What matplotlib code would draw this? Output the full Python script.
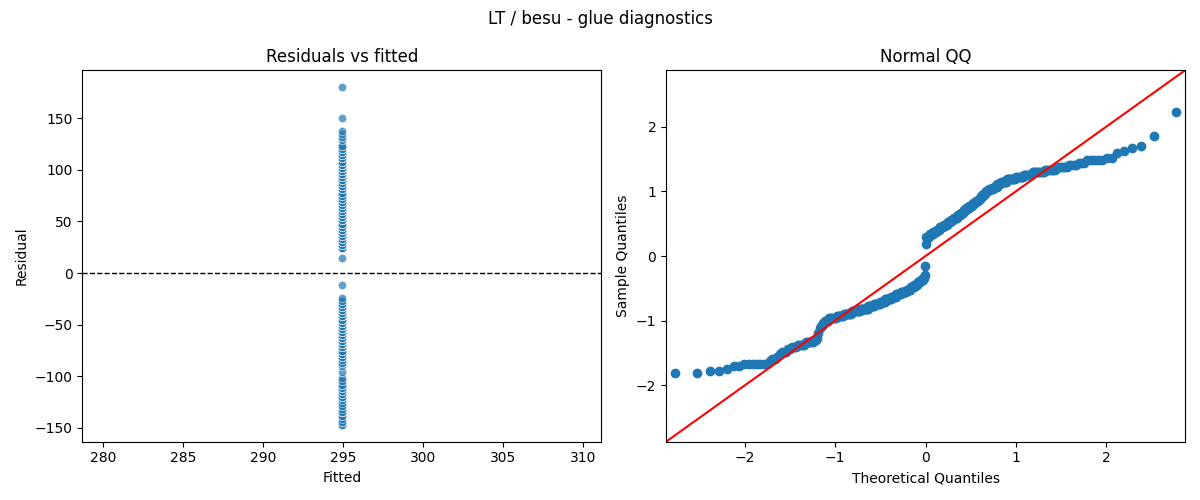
"""Residual diagnostics for the LT / besu glue model.

Left: residuals against fitted values, right: normal QQ of the standardised residuals.
"""

from statistics import NormalDist

import matplotlib
matplotlib.use("Agg")
import matplotlib.pyplot as plt
import numpy as np
import seaborn as sns

# Model output: one constant fitted value, residuals per run
fitted_value = 294.9
residuals = [
    -147, -147, -144, -144, -141, -138, -138, -135, -135, -135,
    -135, -135, -135, -135, -132, -129, -129, -126, -123, -120,
    -120, -120, -117, -117, -114, -114, -114, -111, -111, -111,
    -111, -111, -108, -108, -108, -108, -108, -108, -105, -105,
    -102, -96, -90, -87, -87, -84, -81, -81, -81, -81,
    -78, -78, -78, -78, -78, -78, -78, -75, -75, -75, -75,
    -75, -75, -75, -72, -72, -72, -72, -72, -72, -72,
    -72, -72, -69, -69, -69, -69, -69, -69, -69, -69, -69,
    -69, -66, -66, -66, -66, -66, -66, -66, -66, -66,
    -66, -63, -63, -63, -63, -63, -63, -63, -63, -60, -60,
    -60, -60, -60, -60, -60, -60, -57, -57, -57, -57,
    -57, -57, -57, -54, -54, -54, -54, -54, -54, -54, -54,
    -54, -51, -51, -51, -51, -51, -51, -51, -48, -48,
    -48, -48, -48, -48, -48, -48, -45, -45, -45, -45, -45,
    -45, -45, -45, -42, -42, -42, -42, -42, -42, -39, -39,
    -39, -39, -39, -39, -36, -36, -36, -36, -36, -33,
    -33, -33, -33, -33, -30, -30, -30, -30, -27, -27,
    -24, -12,
    15, 24, 24, 24, 24, 24, 27, 27,
    27, 27, 27, 27, 30, 30, 30, 30, 30, 33,
    33, 33, 33, 33, 36, 36, 36, 36, 36, 36, 39,
    39, 39, 39, 39, 39, 42, 42, 42, 42, 42,
    45, 45, 45, 45, 48, 48, 48, 48, 48, 48, 51,
    51, 51, 51, 51, 54, 54, 54, 54, 57, 57,
    57, 57, 60, 60, 60, 60, 63, 63, 63, 63, 63,
    66, 66, 66, 66, 69, 69, 69, 69, 72, 72,
    72, 75, 75, 75, 78, 78, 78, 81, 81, 81,
    81, 84, 84, 84, 84, 84, 84, 87, 87, 87, 87,
    90, 90, 90, 90, 93, 93, 93, 93, 93, 93,
    93, 96, 96, 96, 96, 96, 96, 96, 96, 96, 99,
    99, 99, 99, 99, 99, 99, 102, 102, 102, 102,
    102, 102, 102, 105, 105, 105, 105, 105, 105, 105,
    105, 105, 108, 108, 108, 108, 108, 108, 108, 111,
    111, 111, 111, 111, 111, 114, 114, 114, 114, 117,
    117, 117, 120, 120, 120, 120, 120, 123, 123, 129,
    132, 135, 138, 150, 180,
]

resid = np.array(residuals, dtype=float)
fitted = np.full(len(resid), fitted_value)

# Standardised residuals (mean-zero residuals scaled by their RMS)
# against normal quantiles at positions i / (n + 1)
n = len(resid)
sample_q = np.sort(resid / np.sqrt(np.mean(resid ** 2)))
theo_q = np.array([NormalDist().inv_cdf(i / (n + 1)) for i in range(1, n + 1)])

fig, (ax1, ax2) = plt.subplots(1, 2, figsize=(12, 5), dpi=100)

# Residuals vs fitted
sns.scatterplot(x=fitted, y=resid, alpha=0.7, ax=ax1)
ax1.axhline(0, color="black", linestyle="--", linewidth=1)
ax1.set_xlabel("Fitted")
ax1.set_ylabel("Residual")
ax1.set_title("Residuals vs fitted")

# Normal QQ with 45 degree reference line
ax2.plot(theo_q, sample_q, marker="o", linestyle="none",
         markerfacecolor="C0", markeredgecolor="C0")
lim = (-2.875, 2.875)
ax2.plot(lim, lim, color="red")
ax2.set_xlim(lim)
ax2.set_ylim(lim)
ax2.set_xlabel("Theoretical Quantiles")
ax2.set_ylabel("Sample Quantiles")
ax2.set_title("Normal QQ")

fig.suptitle("LT / besu - glue diagnostics")
fig.tight_layout()
fig.savefig("out.png")
